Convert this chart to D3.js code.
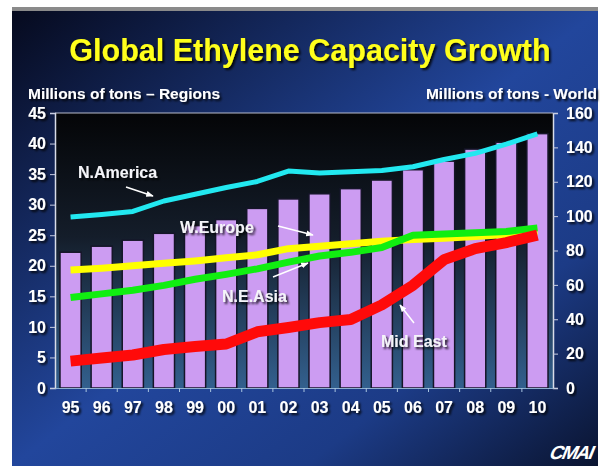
<!DOCTYPE html>
<html>
<head>
<meta charset="utf-8">
<script src="https://cdn.jsdelivr.net/npm/d3@7"></script>
<style>
  body { margin: 0; background: #fff; }
  svg { display: block; font-family: "Liberation Sans", Arial, sans-serif; font-weight: bold; }
</style>
</head>
<body>
<svg width="608" height="466"></svg>
<script>
// data
const years = ["95", "96", "97", "98", "99", "00", "01", "02", "03", "04", "05", "06", "07", "08", "09", "10"];
const world = [79, 82.5, 86, 90, 94.5, 98, 104.5, 110, 113, 116, 121, 127, 132, 139, 143, 148];
const nAmerica = [28.0, 28.4, 28.9, 30.6, 31.7, 32.8, 33.8, 35.5, 35.2, 35.4, 35.6, 36.2, 37.4, 38.4, 39.9, 41.6];
const wEurope = [19.3, 19.6, 20.0, 20.4, 20.8, 21.3, 21.8, 22.8, 23.2, 23.6, 24.0, 24.3, 24.5, 24.8, 25.1, 25.6];
const neAsia = [14.8, 15.4, 16.0, 16.8, 17.8, 18.6, 19.5, 20.6, 21.6, 22.2, 23.0, 25.0, 25.2, 25.4, 25.6, 26.2];
const midEast = [4.4, 4.9, 5.4, 6.3, 6.8, 7.2, 9.2, 9.9, 10.7, 11.2, 13.6, 16.8, 21.0, 22.8, 23.8, 25.0];
const leftTicks = [0, 5, 10, 15, 20, 25, 30, 35, 40, 45];
const rightTicks = [0, 20, 40, 60, 80, 100, 120, 140, 160];

let svg = d3.select("svg");
let defs = svg.append("defs");

// page background
let bg = defs.append("linearGradient").attr("id", "bg")
    .attr("x1", "0%").attr("y1", "0%").attr("x2", "100%").attr("y2", "100%");
bg.append("stop").attr("offset", "0%").attr("stop-color", "#060a1e");
bg.append("stop").attr("offset", "50%").attr("stop-color", "#22469c");
bg.append("stop").attr("offset", "75%").attr("stop-color", "#1c3b86");
bg.append("stop").attr("offset", "100%").attr("stop-color", "#0a1430");

let plotBg = defs.append("linearGradient").attr("id", "plotbg")
    .attr("x1", "0").attr("y1", "0").attr("x2", "0").attr("y2", "1");
plotBg.append("stop").attr("offset", "0%").attr("stop-color", "#040507");
plotBg.append("stop").attr("offset", "45%").attr("stop-color", "#141d2a");
plotBg.append("stop").attr("offset", "100%").attr("stop-color", "#33608e");

let shadow = defs.append("filter").attr("id", "shadow")
    .attr("x", "-10%").attr("y", "-20%").attr("width", "130%").attr("height", "150%");
shadow.append("feDropShadow").attr("dx", 2).attr("dy", 2).attr("stdDeviation", 0.8)
    .attr("flood-color", "#000").attr("flood-opacity", 0.85);

defs.append("marker").attr("id", "arrow")
    .attr("viewBox", "0 0 10 10").attr("refX", 9).attr("refY", 5)
    .attr("markerWidth", 5).attr("markerHeight", 5).attr("orient", "auto")
    .append("path").attr("d", "M0,1 L10,5 L0,9 z").attr("fill", "#fff");

svg.append("rect").attr("x", 0).attr("y", 0).attr("width", 608).attr("height", 466).attr("fill", "#fff");
svg.append("rect").attr("x", 12).attr("y", 7).attr("width", 586).attr("height", 5).attr("fill", "#8a8a8a");
svg.append("rect").attr("x", 12).attr("y", 11).attr("width", 586).attr("height", 455).attr("fill", "url(#bg)");

let margin = {top: 113, right: 55, bottom: 78, left: 55};
let width = 608 - margin.left - margin.right;
let height = 466 - margin.top - margin.bottom;

let x = d3.scaleBand().domain(years).range([0, width]).paddingInner(0.32).paddingOuter(0.16);
let yL = d3.scaleLinear().domain([0, 45]).range([height, 0]);
let yR = d3.scaleLinear().domain([0, 160]).range([height, 0]);

// title
svg.append("text")
    .attr("x", 310).attr("y", 61)
    .attr("text-anchor", "middle")
    .attr("font-size", 30.5)
    .attr("fill", "#ffff1a")
    .attr("filter", "url(#shadow)")
    .text("Global Ethylene Capacity Growth");

svg.append("text").attr("x", 28).attr("y", 99).attr("font-size", 15.5).attr("fill", "#fff")
    .attr("filter", "url(#shadow)").text("Millions of tons \u2013 Regions");
svg.append("text").attr("x", 597).attr("y", 99).attr("text-anchor", "end").attr("font-size", 15.5).attr("fill", "#fff")
    .attr("filter", "url(#shadow)").text("Millions of tons - World");

let g = svg.append("g").attr("transform", `translate(${margin.left},${margin.top})`);

g.append("rect").attr("width", width).attr("height", height).attr("fill", "url(#plotbg)");

// world capacity bars
g.selectAll(".bar").data(world).enter().append("rect")
    .attr("class", "bar")
    .attr("x", (d, i) => x(years[i]))
    .attr("y", d => yR(d))
    .attr("width", x.bandwidth())
    .attr("height", d => height - yR(d))
    .attr("fill", "#cc9cf2")
    .attr("stroke", "#151528")
    .attr("stroke-width", 1.5);

// frame
g.append("line").attr("x1", 0).attr("x2", width).attr("y1", 0).attr("y2", 0)
    .attr("stroke", "#b8bccc").attr("stroke-width", 1);

let yAxisL = g.append("g").call(d3.axisLeft(yL).tickValues(leftTicks).tickSize(5).tickPadding(4));
let yAxisR = g.append("g").attr("transform", `translate(${width},0)`)
    .call(d3.axisRight(yR).tickValues(rightTicks).tickSize(5).tickPadding(8));
[yAxisL, yAxisR].forEach(ax => {
    ax.select(".domain").attr("stroke", "#d8dce8").attr("stroke-width", 1.5);
    ax.selectAll(".tick line").attr("stroke", "#c8cce0");
    ax.selectAll(".tick text").attr("fill", "#fff").attr("font-size", 16)
        .attr("font-family", "Liberation Sans, Arial, sans-serif").attr("font-weight", "bold")
        .attr("filter", "url(#shadow)");
});

// bottom axis with ticks between bars
let xAxis = g.append("g").attr("transform", `translate(0,${height})`)
    .call(d3.axisBottom(x).tickSize(0).tickPadding(14));
xAxis.select(".domain").attr("stroke", "#8fb0d0").attr("stroke-width", 1);
xAxis.selectAll(".tick text").attr("fill", "#fff").attr("font-size", 16)
    .attr("font-family", "Liberation Sans, Arial, sans-serif").attr("font-weight", "bold")
    .attr("filter", "url(#shadow)");
xAxis.selectAll(".sep").data(years.slice(1)).enter().append("line")
    .attr("class", "sep")
    .attr("x1", d => x(d) - x.step() * x.paddingInner() / 2)
    .attr("x2", d => x(d) - x.step() * x.paddingInner() / 2)
    .attr("y1", 0).attr("y2", 4)
    .attr("stroke", "#a8c4e0").attr("stroke-width", 1);

// regional lines
let line = d3.line()
    .x((d, i) => x(years[i]) + x.bandwidth() / 2)
    .y(d => yL(d));

let series = [
    {name: "N.America", values: nAmerica, color: "#22e8f0", w: 5},
    {name: "W.Europe", values: wEurope, color: "#ffff00", w: 7},
    {name: "N.E.Asia", values: neAsia, color: "#11ee11", w: 7},
    {name: "Mid East", values: midEast, color: "#ff0a0a", w: 11}
];

series.forEach(s => {
    g.append("path")
        .datum(s.values)
        .attr("fill", "none")
        .attr("stroke", s.color)
        .attr("stroke-width", s.w)
        .attr("stroke-linejoin", "round")
        .attr("stroke-linecap", "butt")
        .attr("d", line);
});

// labels with arrows (page coordinates)
let notes = [
    {text: "N.America", tx: 78, ty: 178, a: [126, 187, 153, 196]},
    {text: "W.Europe", tx: 180, ty: 233, a: [278, 226, 313, 235]},
    {text: "N.E.Asia", tx: 222, ty: 302, a: [273, 277, 308, 263]},
    {text: "Mid East", tx: 381, ty: 347, a: [414, 323, 400, 305]}
];
notes.forEach(n => {
    svg.append("text").attr("x", n.tx).attr("y", n.ty).attr("font-size", 16)
        .attr("fill", "#f4f4f8").attr("filter", "url(#shadow)").text(n.text);
    svg.append("line")
        .attr("x1", n.a[0]).attr("y1", n.a[1]).attr("x2", n.a[2]).attr("y2", n.a[3])
        .attr("stroke", "#fff").attr("stroke-width", 1.5)
        .attr("marker-end", "url(#arrow)");
});

// logo
svg.append("text")
    .attr("transform", "translate(548,459) skewX(-22)")
    .attr("font-size", 19)
    .attr("font-weight", "bold")
    .attr("letter-spacing", -1.5)
    .attr("fill", "#fff")
    .text("CMAI");
</script>
</body>
</html>
